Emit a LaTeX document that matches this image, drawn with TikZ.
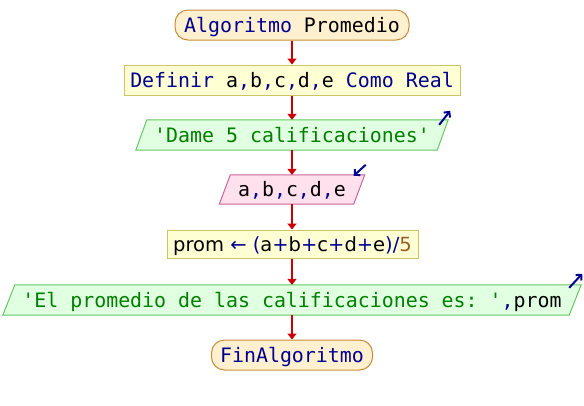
\documentclass[tikz,border=0pt]{standalone}
\usepackage{fontspec}
\setmonofont{DejaVu Sans Mono}
\newfontfamily\exprfont{DejaVu Sans}
\usetikzlibrary{arrows.meta,calc,backgrounds}

% syntax colours
\definecolor{kwcol}{RGB}{0,0,145}
\definecolor{strcol}{RGB}{0,128,0}
\definecolor{numcol}{RGB}{150,95,35}
% block colours
\definecolor{flowcol}{RGB}{204,0,0}
\definecolor{termfill}{RGB}{255,240,208}
\definecolor{termline}{RGB}{200,140,60}
\definecolor{procfill}{RGB}{255,255,212}
\definecolor{procline}{RGB}{205,195,100}
\definecolor{outfill}{RGB}{225,255,225}
\definecolor{outborder}{RGB}{100,200,100}
\definecolor{infill}{RGB}{255,225,238}
\definecolor{inborder}{RGB}{200,100,150}

\newcommand\kwd[1]{\textcolor{kwcol}{#1}}
\newcommand\strg[1]{\textcolor{strcol}{#1}}
\newcommand\opr[1]{\textcolor{kwcol}{#1}}
\newcommand\numb[1]{\textcolor{numcol}{#1}}

% parallelogram drawn behind a named node: node, slant, fill, border
\newcommand\slantbox[4]{%
  \filldraw[fill=#3,draw=#4,line width=1pt]
    ($(#1.north west)+(#2/2,0)$) -- ($(#1.north east)+(#2/2,0)$)
    -- ($(#1.south east)-(#2/2,0)$) -- ($(#1.south west)-(#2/2,0)$) -- cycle;}

\tikzset{
  base/.style={inner sep=0pt,text height=14.5pt,text depth=0pt,
    font=\ttfamily\fontsize{19.9}{24}\selectfont},
  term/.style={base,draw=termline,fill=termfill,rounded corners=13pt,
    line width=1pt,minimum height=30pt},
  proc/.style={base,draw=procline,fill=procfill,line width=1pt},
  iobox/.style={base,minimum height=30pt},
  flowarrow/.style={draw=flowcol,line width=2pt,
    -{Triangle[length=6pt,width=9pt]}},
  iconarrow/.style={draw=kwcol,line width=2pt,
    -{Straight Barb[length=4pt,width=8pt]}},
}

\begin{document}
\begin{tikzpicture}[x=1pt,y=-1pt]
  \useasboundingbox (0,0) rectangle (584,405);

  \node[term,minimum width=234pt] (start) at (292,25)
    {\kwd{Algoritmo} Promedio};
  \node[proc,minimum width=336pt,minimum height=30pt] (def) at (292,80)
    {\kwd{Definir} a\opr{,}b\opr{,}c\opr{,}d\opr{,}e \kwd{Como Real}};
  \node[iobox,minimum width=301pt] (out1) at (292,135)
    {\strg{'Dame 5 calificaciones'}};
  \node[iobox,minimum width=134pt,minimum height=29pt] (in1) at (292,189.5)
    {a\opr{,}b\opr{,}c\opr{,}d\opr{,}e};
  \node[proc,minimum width=251pt,minimum height=28pt,
        font=\exprfont\fontsize{19.5}{24}\selectfont] (calc) at (292.5,244)
    {prom \opr{\symbol{"2190}} \opr{(}a\opr{+}b\opr{+}c\opr{+}d\opr{+}e\opr{)/}\numb{5}};
  \node[iobox,minimum width=566pt] (out2) at (292,300)
    {\strg{'El promedio de las calificaciones es: '}\opr{,}prom};
  \node[term,minimum width=161pt] (stop) at (292,355)
    {\kwd{FinAlgoritmo}};

  \begin{scope}[on background layer]
    \fill[white] (0,0) rectangle (584,405);
    \slantbox{out1}{11}{outfill}{outborder}
    \slantbox{in1}{11}{infill}{inborder}
    \slantbox{out2}{12}{outfill}{outborder}
  \end{scope}

  % output / input markers at the upper right corners
  \draw[iconarrow] ($(out1.north east)+(5.5,0)+(-9,5)$) -- ($(out1.north east)+(5.5,0)+(2,-9)$);
  \draw[iconarrow] ($(in1.north east)+(5.5,0)+(1,-10)$) -- ($(in1.north east)+(5.5,0)+(-11,1)$);
  \draw[iconarrow] ($(out2.north east)+(6,0)+(-12,3)$) -- ($(out2.north east)+(6,0)+(1,-11)$);

  % flow
  \draw[flowarrow] (start) -- (def);
  \draw[flowarrow] (def) -- (out1);
  \draw[flowarrow] (out1) -- (in1);
  \draw[flowarrow] (in1) -- (in1 |- calc.north);
  \draw[flowarrow] (in1 |- calc.south) -- (out2);
  \draw[flowarrow] (out2) -- (stop);
\end{tikzpicture}
\end{document}
